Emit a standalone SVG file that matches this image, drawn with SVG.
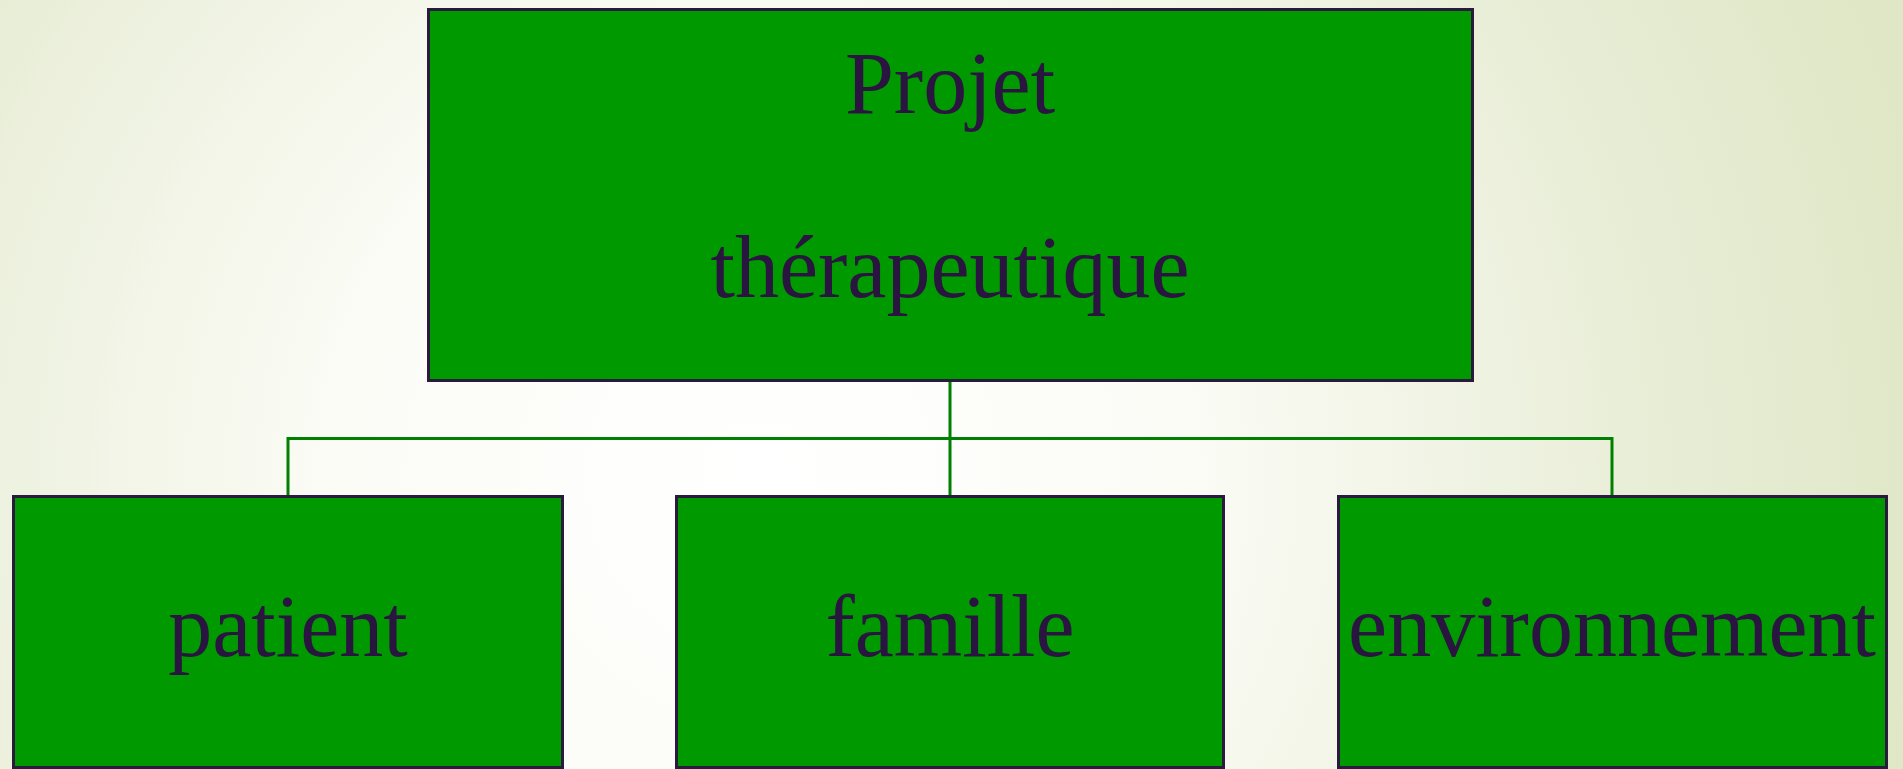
<svg xmlns="http://www.w3.org/2000/svg" width="1903" height="769" viewBox="0 0 1903 769">
<defs>
<radialGradient id="bg" gradientUnits="userSpaceOnUse" cx="760" cy="480" r="1200">
<stop offset="0" stop-color="#ffffff"/>
<stop offset="0.35" stop-color="#fbfcf6"/>
<stop offset="0.75" stop-color="#e8edd6"/>
<stop offset="1" stop-color="#dfe7c6"/>
</radialGradient>
<style>
.box{fill:#009900;stroke:#2a1a3e;stroke-width:3}
.lbl{font-family:"Liberation Serif",serif;font-size:88px;fill:#2a1540;text-anchor:middle}
.con{stroke:#008000;stroke-width:3;fill:none}
</style>
</defs>
<rect width="1903" height="769" fill="url(#bg)"/>
<g id="connectors">
<line class="con" x1="950" y1="381" x2="950" y2="496"/>
<polyline class="con" points="288,496 288,438.5 1612,438.5 1612,496"/>
</g>
<g id="node-projet">
<rect class="box" x="428.5" y="9.5" width="1044" height="371"/>
<text class="lbl" x="950" y="113">Projet</text>
<text class="lbl" x="950" y="297">thérapeutique</text>
</g>
<g id="node-patient">
<rect class="box" x="13.5" y="496.5" width="549" height="271"/>
<text class="lbl" x="288" y="656">patient</text>
</g>
<g id="node-famille">
<rect class="box" x="676.5" y="496.5" width="547" height="271"/>
<text class="lbl" x="950" y="656">famille</text>
</g>
<g id="node-environnement">
<rect class="box" x="1338.5" y="496.5" width="548" height="271"/>
<text class="lbl" x="1612" y="656">environnement</text>
</g>
</svg>
